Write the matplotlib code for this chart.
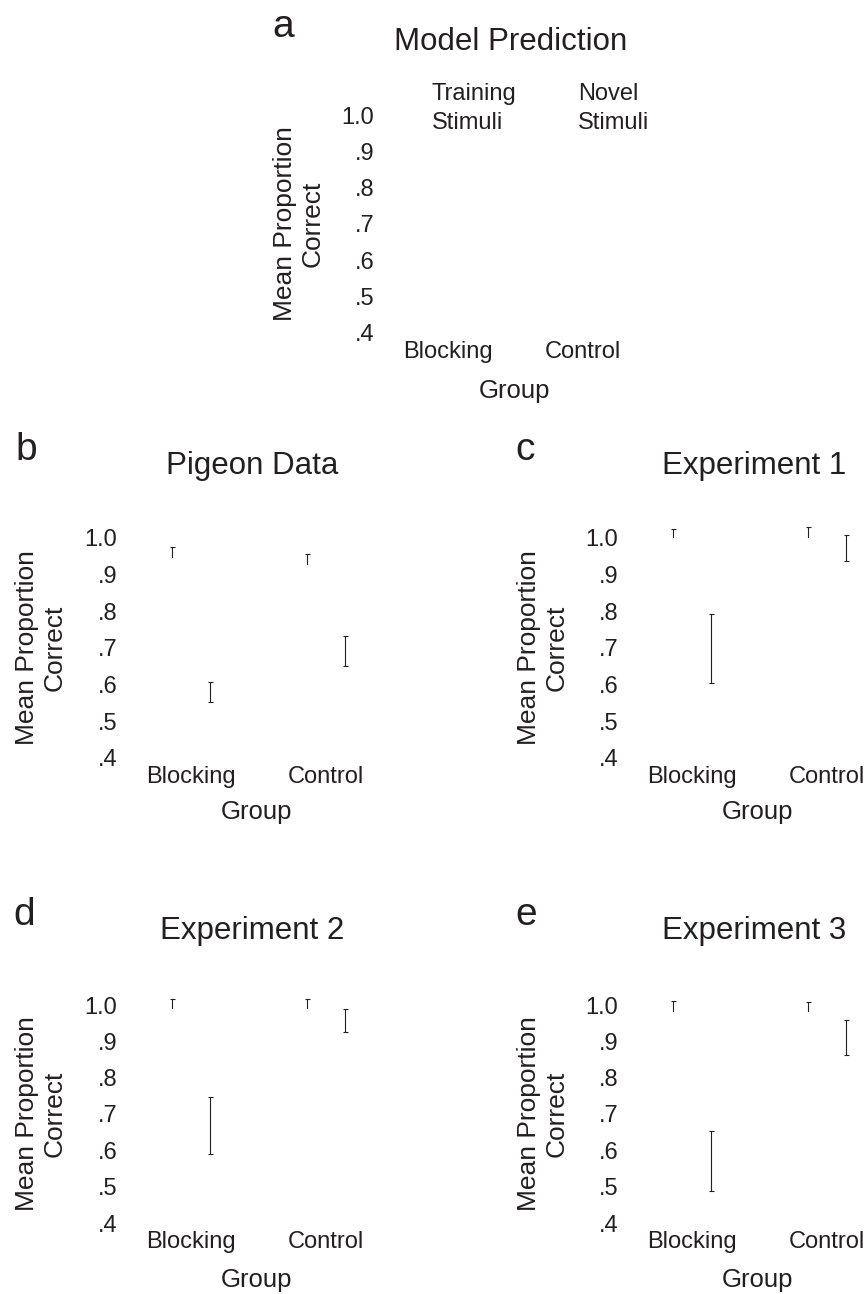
import matplotlib
matplotlib.use("Agg")
import matplotlib.pyplot as plt
import numpy as np

plt.rcParams['font.family'] = ['Liberation Sans', 'DejaVu Sans']
TXT = '#231f20'

groups = ["Blocking", "Control"]
yticks = [0.4, 0.5, 0.6, 0.7, 0.8, 0.9, 1.0]
ytick_labels = [".4", ".5", ".6", ".7", ".8", ".9", "1.0"]

# panel data: means and error (SEM) for training and novel stimuli
pigeon_train = [0.945, 0.925]
pigeon_train_err = [0.030, 0.030]
pigeon_novel = [0.580, 0.692]
pigeon_novel_err = [0.026, 0.041]

exp1_train = [1.000, 1.000]
exp1_train_err = [0.025, 0.030]
exp1_novel = [0.698, 0.972]
exp1_novel_err = [0.094, 0.036]

exp2_train = [0.990, 0.990]
exp2_train_err = [0.026, 0.026]
exp2_novel = [0.668, 0.957]
exp2_novel_err = [0.078, 0.032]

exp3_train = [0.980, 0.980]
exp3_train_err = [0.030, 0.028]
exp3_novel = [0.570, 0.910]
exp3_novel_err = [0.083, 0.048]

W, H = 867, 1294
fig = plt.figure(figsize=(W / 100, H / 100), dpi=100)


def px_axes(left, top, bottom, width=216):
    return fig.add_axes([left / W, 1 - bottom / H, width / W, (bottom - top) / H])


def ftext(x, y, s, **kw):
    kw.setdefault('color', TXT)
    fig.text(x / W, 1 - y / H, s, **kw)


def setup(ax):
    ax.set_xlim(-0.3, 1.3)
    ax.set_ylim(0.4, 1.0)
    for sp in ax.spines.values():
        sp.set_visible(False)
    ax.set_yticks(yticks)
    ax.set_yticklabels(ytick_labels, fontsize=17, color=TXT)
    ax.set_xticks(np.arange(len(groups)))
    ax.set_xticklabels(groups, fontsize=17, color=TXT)
    ax.tick_params(axis='y', length=0, pad=24)
    ax.tick_params(axis='x', length=0, pad=6)
    ax.patch.set_visible(False)


def draw(ax, tr, tre, nv, nve):
    x = np.arange(len(groups))
    off = 0.144
    bw = 0.288
    ax.errorbar(x - off, tr, yerr=tre, fmt='none', ecolor=TXT, elinewidth=0.8,
                capsize=1.8, capthick=0.8, zorder=1, clip_on=False)
    ax.bar(x - off, tr, width=bw, color='white', zorder=2)
    ax.bar(x + off, nv, width=bw, color='white', zorder=2)
    ax.errorbar(x + off, nv, yerr=nve, fmt='none', ecolor=TXT, elinewidth=0.8,
                capsize=1.8, capthick=0.8, zorder=3, clip_on=False)


panels = [
    # letter, lx, lbase, title, tx, tbase, axes (left, top, bottom), ylabel x, group x, group base, data
    ("a", 272, 37, "Model Prediction", 511, 50, (407.5, 115, 333), 299, 514, 398, None),
    ("b", 15, 460, "Pigeon Data", 252.5, 474, (150.5, 538, 758), 41, 256, 819,
     (pigeon_train, pigeon_train_err, pigeon_novel, pigeon_novel_err)),
    ("c", 515, 460, "Experiment 1", 754, 474, (651.5, 538, 758), 543, 757.5, 819,
     (exp1_train, exp1_train_err, exp1_novel, exp1_novel_err)),
    ("d", 13, 925, "Experiment 2", 252, 939, (150.5, 1005, 1223), 41, 256, 1287,
     (exp2_train, exp2_train_err, exp2_novel, exp2_novel_err)),
    ("e", 515, 925, "Experiment 3", 754, 939, (651.5, 1005, 1223), 543, 757.5, 1287,
     (exp3_train, exp3_train_err, exp3_novel, exp3_novel_err)),
]

for letter, lx, lb, title, tx, tb, (al, at, ab), ylx, gx, gb, data in panels:
    ax = px_axes(al, at, ab)
    setup(ax)
    if data is not None:
        draw(ax, *data)
    ftext(lx, lb, letter, fontsize=28, ha='left', va='baseline')
    ftext(tx, tb, title, fontsize=22.5, ha='center', va='baseline')
    ftext(ylx, (at + ab) / 2, "Mean Proportion\nCorrect", fontsize=19, rotation=90,
          ha='center', va='center', multialignment='center')
    ftext(gx, gb, "Group", fontsize=18.5, ha='center', va='baseline')

# legend-like labels in panel a
ftext(432, 100, "Training", fontsize=17, ha='left', va='baseline')
ftext(432, 129, "Stimuli", fontsize=17, ha='left', va='baseline')
ftext(578, 100, "Novel", fontsize=17, ha='left', va='baseline')
ftext(578, 129, "Stimuli", fontsize=17, ha='left', va='baseline')

fig.savefig("out.png", dpi=100, facecolor='white')
